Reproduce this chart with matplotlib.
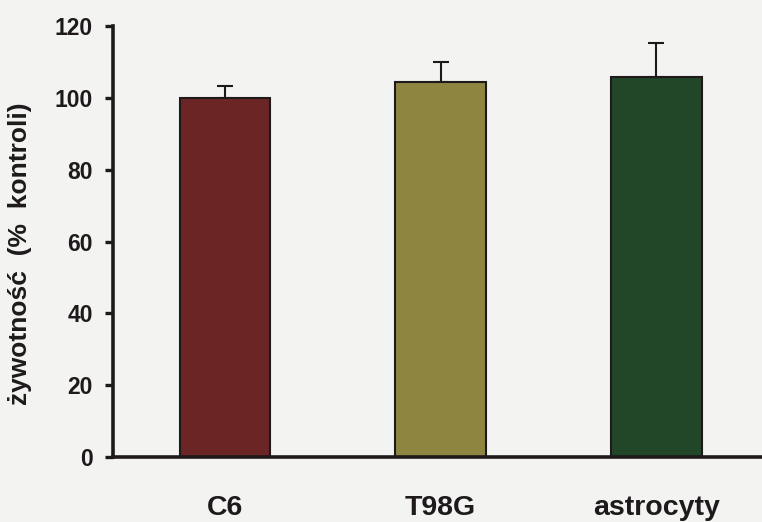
import numpy as np
import matplotlib.pyplot as plt

# Dane
kategorie = ["C6", "T98G", "astrocyty"]
wartosci = [100.0, 104.5, 105.9]
bledy = [3.3, 5.5, 9.5]
kolory = ["#6c2525", "#8e8541", "#224628"]

plt.rcParams["font.family"] = ["Liberation Sans", "DejaVu Sans"]
plt.rcParams["font.weight"] = "bold"

fig = plt.figure(figsize=(7.62, 5.22), dpi=100, facecolor="#f3f3f1")
ax = fig.add_axes([0.148, 0.1245, 0.852, 0.8255])
ax.set_facecolor("#f3f3f1")

x = np.arange(len(kategorie))
ax.bar(x, wartosci, width=0.42, color=kolory, edgecolor="#1e1a1c", linewidth=1.5, zorder=2)
ax.errorbar(x, wartosci, yerr=[np.zeros(len(bledy)), bledy], fmt="none",
            ecolor="#1e1a1c", elinewidth=1.5, capsize=5.8, capthick=1.5, zorder=1)

ax.set_xlim(-0.52, 2.49)
ax.set_ylim(0, 120)
ax.set_yticks([0, 20, 40, 60, 80, 100, 120])
ax.set_xticks(x)
ax.set_xticklabels(kategorie, fontsize=20.5, fontweight="bold", color="#1e1a1c")

for s in ["top", "right"]:
    ax.spines[s].set_visible(False)
for s in ["left", "bottom"]:
    ax.spines[s].set_linewidth(2.6)
    ax.spines[s].set_color("#1e1a1c")

ax.tick_params(axis="y", length=6, width=2.4, pad=8.5, labelsize=16.5, colors="#1e1a1c")
ax.tick_params(axis="x", length=0, pad=27)

ax.set_ylabel("żywotność  (%  kontroli)", fontsize=19, fontweight="bold", color="#1e1a1c",
              va="center")
ax.yaxis.set_label_coords(-0.143, 0.473)

plt.savefig("out.png", dpi=100, facecolor=fig.get_facecolor())
